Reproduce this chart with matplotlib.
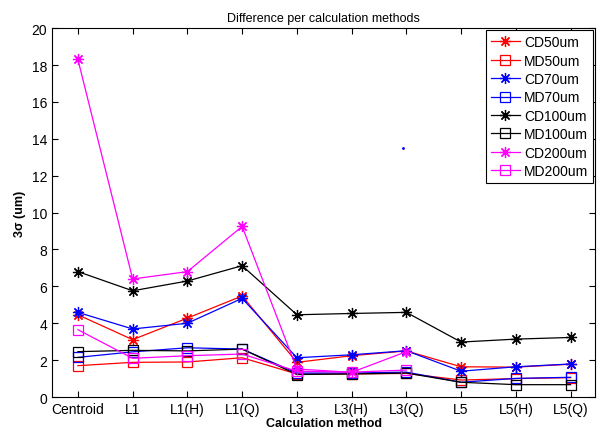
import numpy as np
import matplotlib
matplotlib.use("Agg")
import matplotlib.pyplot as plt

plt.rcParams['font.family'] = ['Liberation Sans', 'DejaVu Sans']

methods = ["Centroid", "L1", "L1(H)", "L1(Q)", "L3", "L3(H)", "L3(Q)", "L5", "L5(H)", "L5(Q)"]
nan = np.nan

cd50 = [4.46, 3.11, 4.28, 5.48, 1.88, 2.24, 2.5, 1.64, 1.62, 1.78]
md50 = [1.7, 1.88, 1.9, 2.13, 1.25, 1.25, 1.28, 0.92, 1.0, 1.05]
cd70 = [4.59, 3.69, 4.0, 5.35, 2.13, 2.29, 2.51, 1.4, 1.64, 1.79]
md70 = [2.15, 2.45, 2.67, 2.6, 1.3, 1.3, 1.35, 0.8, 1.01, 1.07]
cd100 = [6.8, 5.76, 6.29, 7.12, 4.46, 4.53, 4.59, 2.98, 3.14, 3.23]
md100 = [2.46, 2.53, 2.5, 2.6, 1.22, 1.25, 1.3, 0.8, 0.67, 0.67]
cd200 = [18.3, 6.4, 6.8, 9.25, 1.52, 1.34, 2.46, nan, nan, nan]
md200 = [3.65, 2.1, 2.24, 2.33, 1.4, 1.35, 1.46, nan, nan, nan]

# lone dot near the top of the plot
dot_x = [5.93]
dot_y = [13.5]

series = [
    ("CD50um", cd50, "#ff0000", "*"),
    ("MD50um", md50, "#ff0000", "s"),
    ("CD70um", cd70, "#0000ff", "*"),
    ("MD70um", md70, "#0000ff", "s"),
    ("CD100um", cd100, "#000000", "*"),
    ("MD100um", md100, "#000000", "s"),
    ("CD200um", cd200, "#ff00ff", "*"),
    ("MD200um", md200, "#ff00ff", "s"),
]

fig = plt.figure(figsize=(6, 4.35), dpi=100)
ax = fig.add_axes([0.087, 0.085, 0.905, 0.848])

x = np.arange(len(methods))
for name, vals, col, mk in series:
    if mk == "*":
        ax.plot(x, vals, color=col, lw=0.9, marker=(8, 2, 0), ms=8,
                mew=0.9, label=name)
    else:
        ax.plot(x, vals, color=col, lw=0.9, marker="s", ms=7,
                mfc="none", mec=col, mew=0.9, label=name)

ax.plot(dot_x, dot_y, ".", color="#0000ff", ms=2)

ax.set_xlim(-0.47, 9.45)
ax.set_ylim(0, 20)
ax.set_yticks(range(0, 21, 2))
ax.set_xticks(x)
ax.set_xticklabels(methods)
ax.tick_params(direction="in", top=True, right=True, labelsize=10, length=4)
ax.set_title("Difference per calculation methods", fontsize=9, pad=5)
ax.set_xlabel("Calculation method", fontsize=9, fontweight="bold", labelpad=1)
ax.set_ylabel("3σ (um)", fontsize=9, fontweight="bold", labelpad=4)

leg = ax.legend(loc="upper right", fontsize=10, fancybox=False, framealpha=1,
                edgecolor="black", handlelength=2.1, borderaxespad=0.15,
                labelspacing=0.32, handletextpad=0.3, borderpad=0.35)
leg.get_frame().set_linewidth(0.8)

fig.savefig("out.png", dpi=100)
